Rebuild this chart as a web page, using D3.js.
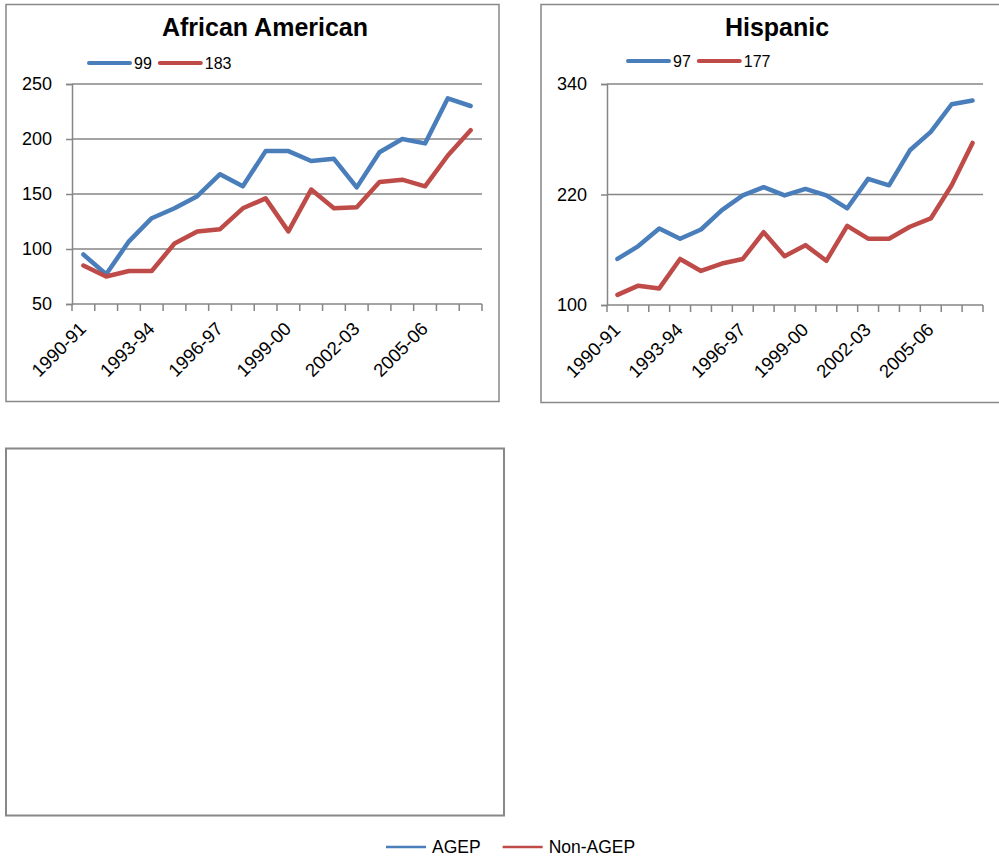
<!DOCTYPE html>
<html>
  <head>
    <meta charset="utf-8">
    <title>AGEP vs Non-AGEP</title>
    <script src="https://d3js.org/d3.v7.min.js"></script>
    <style>
      body { margin: 0; background: #fff; }
      text { font-family: "Liberation Sans", Arial, sans-serif; fill: #000; }
    </style>
  </head>
  <body>
    <script>
      // school years on the x axis
      var years = ["1990-91","1991-92","1992-93","1993-94","1994-95","1995-96","1996-97","1997-98","1998-99",
                   "1999-00","2000-01","2001-02","2002-03","2003-04","2004-05","2005-06","2006-07","2007-08"];
      var shownYears = ["1990-91","1993-94","1996-97","1999-00","2002-03","2005-06"];

      // African American panel
      var aaAgep    = [95, 77, 107, 128, 137, 148, 168, 157, 189, 189, 180, 182, 156, 188, 200, 196, 237, 230];
      var aaNonAgep = [85, 75, 80, 80, 105, 116, 118, 137, 146, 116, 154, 137, 138, 161, 163, 157, 185, 208];
      var aaTicks   = [50, 100, 150, 200, 250];
      var aaLegend  = ["99", "183"];

      // Hispanic panel
      var hiAgep    = [150, 164, 183, 172, 182, 203, 219, 228, 219, 226, 219, 205, 237, 230, 268, 288, 318, 322];
      var hiNonAgep = [111, 121, 118, 150, 137, 145, 150, 179, 153, 165, 148, 186, 172, 172, 185, 194, 230, 276];
      var hiTicks   = [100, 220, 340];
      var hiLegend  = ["97", "177"];

      var seriesNames = ["AGEP", "Non-AGEP"];
      var colors = ["#4a7ebb", "#be4b48"];

      var width = 999, height = 859;
      var svg = d3.select("body").append("svg")
        .attr("width", width)
        .attr("height", height);

      // panel frames
      svg.append("rect").attr("x", 6).attr("y", 4.5).attr("width", 493).attr("height", 397)
        .attr("fill", "none").attr("stroke", "#888").attr("stroke-width", 1.5);
      svg.append("rect").attr("x", 541).attr("y", 4.5).attr("width", 470).attr("height", 398)
        .attr("fill", "none").attr("stroke", "#888").attr("stroke-width", 1.5);
      svg.append("rect").attr("x", 6).attr("y", 448.5).attr("width", 498).attr("height", 367)
        .attr("fill", "none").attr("stroke", "#888").attr("stroke-width", 2);

      function drawPanel(cfg) {
        var g = svg.append("g");
        var x = d3.scaleBand().domain(years).range([cfg.left, cfg.right]);
        var y = d3.scaleLinear().domain([cfg.ticks[0], cfg.ticks[cfg.ticks.length-1]]).range([cfg.bottom, cfg.top]);

        // gridlines
        g.selectAll("line.grid").data(cfg.ticks.slice(1)).enter().append("line")
          .attr("x1", cfg.left).attr("x2", cfg.right)
          .attr("y1", function(d) { return y(d); }).attr("y2", function(d) { return y(d); })
          .attr("stroke", "#868686").attr("stroke-width", 1.5);

        // y axis
        var yAxis = g.append("g").attr("transform", "translate(" + cfg.left + ",0)")
          .call(d3.axisLeft(y).tickValues(cfg.ticks).tickSize(6).tickPadding(14));
        yAxis.select(".domain").attr("stroke", "#868686").attr("stroke-width", 1.5);
        yAxis.selectAll(".tick line").attr("stroke", "#868686").attr("stroke-width", 1.5);
        yAxis.selectAll(".tick text").attr("font-size", 18).attr("font-family", "Liberation Sans, Arial, sans-serif");

        // x axis line and ticks between categories
        g.append("line").attr("x1", cfg.left).attr("x2", cfg.right)
          .attr("y1", cfg.bottom).attr("y2", cfg.bottom)
          .attr("stroke", "#868686").attr("stroke-width", 1.5);
        var edges = years.map(function(d) { return x(d); }).concat([cfg.right]);
        g.selectAll("line.xtick").data(edges).enter().append("line")
          .attr("x1", function(d) { return d; }).attr("x2", function(d) { return d; })
          .attr("y1", cfg.bottom).attr("y2", cfg.bottom + 7)
          .attr("stroke", "#868686").attr("stroke-width", 1.5);

        g.selectAll("text.xlab").data(shownYears).enter().append("text")
          .attr("transform", function(d) {
            return "translate(" + (x(d) + x.bandwidth()/2 + 4) + "," + (cfg.bottom + 26) + ") rotate(-45)";
          })
          .attr("text-anchor", "end")
          .attr("font-size", 18.5)
          .text(function(d) { return d; });

        // lines
        var line = d3.line()
          .x(function(d, i) { return x(years[i]) + x.bandwidth()/2; })
          .y(function(d) { return y(d); });
        [cfg.agep, cfg.nonAgep].forEach(function(vals, k) {
          g.append("path").datum(vals)
            .attr("d", line)
            .attr("fill", "none")
            .attr("stroke", colors[k])
            .attr("stroke-width", 4.5)
            .attr("stroke-linejoin", "round")
            .attr("stroke-linecap", "round");
        });

        // title
        g.append("text").attr("x", cfg.titleX).attr("y", 36)
          .attr("text-anchor", "middle").attr("font-size", 25).attr("font-weight", "bold")
          .text(cfg.title);

        // inner legend
        var lx = cfg.legendX;
        cfg.legend.forEach(function(lab, k) {
          g.append("line").attr("x1", lx).attr("x2", lx + 41)
            .attr("y1", cfg.legendY).attr("y2", cfg.legendY)
            .attr("stroke", colors[k]).attr("stroke-width", 4).attr("stroke-linecap", "round");
          var t = g.append("text").attr("x", lx + 45).attr("y", cfg.legendY + 6)
            .attr("font-size", 16).text(lab);
          lx = lx + 45 + t.node().getComputedTextLength() + 8;
        });
      }

      drawPanel({
        title: "African American", titleX: 265,
        left: 72, right: 482, top: 84, bottom: 304,
        ticks: aaTicks, agep: aaAgep, nonAgep: aaNonAgep,
        legend: aaLegend, legendX: 89, legendY: 63
      });
      drawPanel({
        title: "Hispanic", titleX: 777,
        left: 607, right: 983, top: 84, bottom: 305,
        ticks: hiTicks, agep: hiAgep, nonAgep: hiNonAgep,
        legend: hiLegend, legendX: 628, legendY: 61
      });

      // bottom legend
      var lg = svg.append("g");
      var bx = 386;
      seriesNames.forEach(function(name, k) {
        lg.append("line").attr("x1", bx).attr("x2", bx + 40)
          .attr("y1", 847).attr("y2", 847)
          .attr("stroke", colors[k]).attr("stroke-width", 2.5);
        var t = lg.append("text").attr("x", bx + 46).attr("y", 853)
          .attr("font-size", 17.5).text(name);
        bx = bx + 46 + t.node().getComputedTextLength() + 22;
      });
    </script>
  </body>
</html>
